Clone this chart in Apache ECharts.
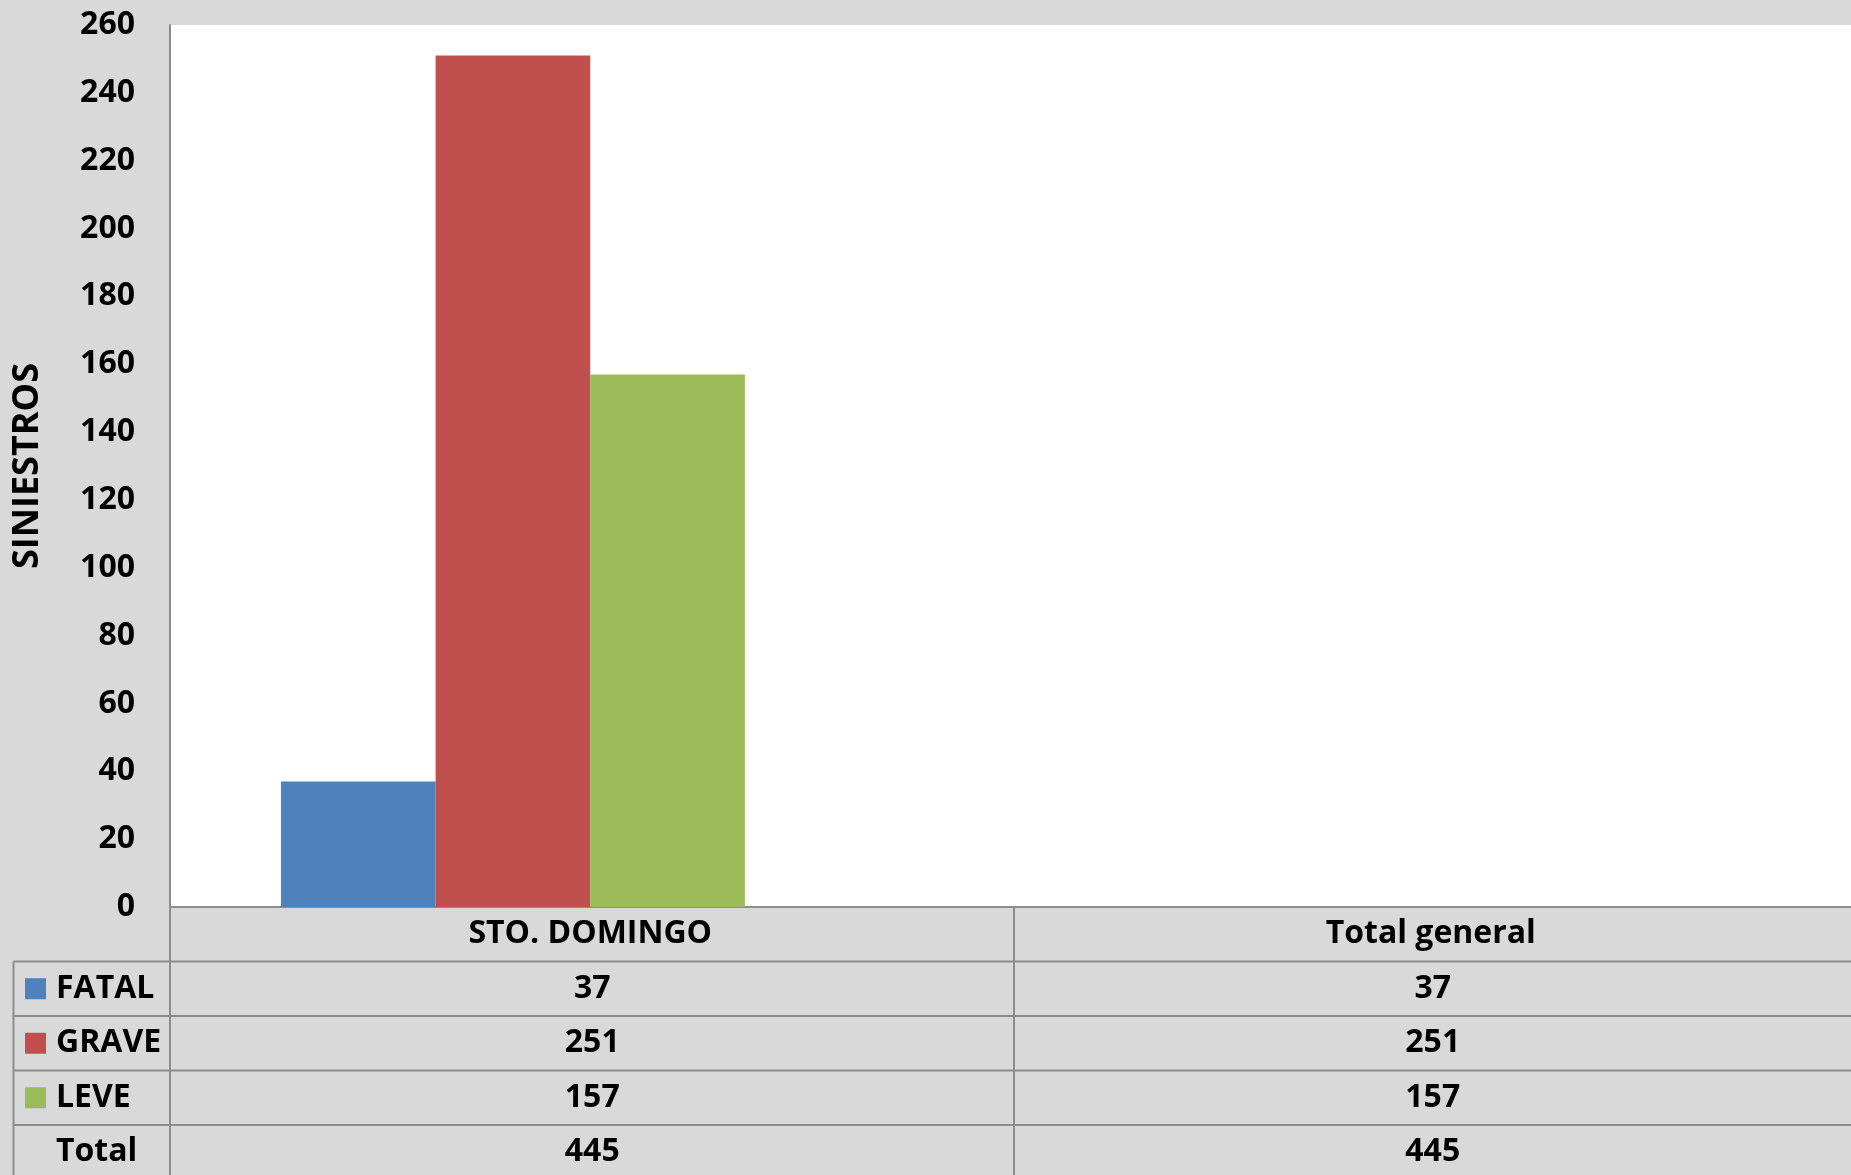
<!DOCTYPE html>
<html>
<head>
<meta charset="utf-8">
<script src="https://cdn.jsdelivr.net/npm/echarts@6/dist/echarts.min.js"></script>
<style>
  html, body { margin: 0; padding: 0; background: #d9d9d9; }
  #chartmain { width: 1851px; height: 1175px; }
</style>
</head>
<body>
<div id="chartmain"></div>
<script>
// datos
var categories = ['STO. DOMINGO', 'Total general'];
var seriesNames = ['FATAL', 'GRAVE', 'LEVE'];
var fatal = [37, 37];
var grave = [251, 251];
var leve = [157, 157];
var totals = [445, 445];
var colors = ['#4f81bd', '#c0504d', '#9bbb59'];
var yTicks = [0, 260, 20]; // min, max, intervalo

var font = '"Open Sans", "DejaVu Sans", sans-serif';
var lineColor = '#8c8c8c';

// en el original la columna "Total general" no tiene barras dibujadas
function onlyFirst(arr) {
  return arr.map(function (v, i) { return i === 0 ? v : '-'; });
}

var tableRows = [fatal, grave, leve];

var series = tableRows.map(function (arr, i) {
  return {
    name: seriesNames[i],
    type: 'bar',
    data: onlyFirst(arr),
    barGap: 0,
    barCategoryGap: '26.4%',
    itemStyle: { color: colors[i] },
    silent: true
  };
});
// la serie Total ocupa un hueco pero no se ve
series.push({
  name: 'Total',
  type: 'bar',
  data: ['-', '-'],
  barGap: 0,
  barCategoryGap: '26.4%'
});

var myChart = echarts.init(document.getElementById('chartmain'));

var option = {
  backgroundColor: '#d9d9d9',
  animation: false,
  grid: {
    left: 170,
    top: 25,
    right: 0,
    bottom: 268,
    show: true,
    backgroundColor: '#ffffff',
    borderWidth: 0
  },
  xAxis: {
    type: 'category',
    data: categories,
    axisLine: { show: true, lineStyle: { color: lineColor, width: 2 } },
    axisTick: { show: false },
    axisLabel: {
      margin: 27,
      verticalAlign: 'middle',
      fontFamily: font,
      fontWeight: 'bold',
      fontSize: 32,
      color: '#000'
    },
    splitLine: { show: false }
  },
  yAxis: {
    type: 'value',
    min: yTicks[0],
    max: yTicks[1],
    interval: yTicks[2],
    axisLine: { show: true, lineStyle: { color: lineColor, width: 2 } },
    axisTick: { show: false },
    splitLine: { show: false },
    axisLabel: {
      margin: 35,
      fontFamily: font,
      fontWeight: 'bold',
      fontSize: 32,
      color: '#000'
    }
  },
  series: series
};
myChart.setOption(option);

// tabla de datos debajo del grafico
var zeroY = 907;
var rowH = 54.5;
var tableLeft = 13.5;
var colX = [170, 1014];
var graphics = [];

function line(x1, y1, x2, y2) {
  graphics.push({
    type: 'line',
    silent: true,
    shape: { x1: x1, y1: y1, x2: x2, y2: y2 },
    style: { stroke: lineColor, lineWidth: 2 }
  });
}
function text(str, x, y, align) {
  graphics.push({
    type: 'text',
    silent: true,
    x: x,
    y: y,
    style: {
      text: str,
      fill: '#000',
      font: 'bold 32px ' + font,
      align: align || 'center',
      verticalAlign: 'middle'
    }
  });
}

// lineas horizontales
for (var r = 1; r <= 4; r++) {
  line(tableLeft, zeroY + rowH * r, 1851, zeroY + rowH * r);
}
// lineas verticales
line(tableLeft, zeroY + rowH, tableLeft, 1175);
line(colX[1], zeroY, colX[1], 1175);
line(colX[0], zeroY, colX[0], 1175);

var rowLabels = seriesNames.concat(['Total']);
var rowValues = tableRows.concat([totals]);
rowLabels.forEach(function (lab, r) {
  var cy = zeroY + rowH * (r + 1) + rowH / 2;
  if (r < 3) {
    graphics.push({
      type: 'rect',
      silent: true,
      shape: { x: 25, y: cy - 10.5, width: 21, height: 21 },
      style: { fill: colors[r] }
    });
  }
  text(lab, 56, cy, 'left');
  categories.forEach(function (c, i) {
    var px = myChart.convertToPixel({ xAxisIndex: 0 }, c);
    text(String(rowValues[r][i]), px + 2, cy);
  });
});

// titulo del eje
graphics.push({
  type: 'text',
  silent: true,
  x: 28,
  y: 466,
  rotation: Math.PI / 2,
  style: {
    text: 'SINIESTROS',
    fill: '#000',
    font: 'bold 36px ' + font,
    align: 'center',
    verticalAlign: 'middle'
  }
});

myChart.setOption({ graphic: graphics });
</script>
</body>
</html>
